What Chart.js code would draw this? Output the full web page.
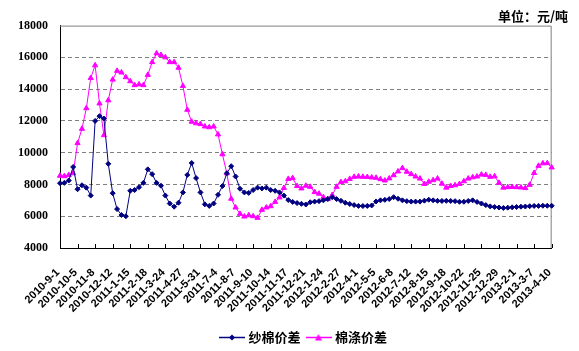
<!DOCTYPE html>
<html>
<head>
<meta charset="utf-8">
<script src="https://cdn.jsdelivr.net/npm/chart.js@4.4.1/dist/chart.umd.min.js"></script>
<style>
  html, body { margin: 0; padding: 0; background: #fff; }
</style>
</head>
<body>
<canvas id="c" width="579" height="351"></canvas>
<script>
const tickLabels = ['2010-9-1', '2010-10-5', '2010-11-8', '2010-12-12', '2011-1-15', '2011-2-18', '2011-3-24',
  '2011-4-27', '2011-5-31', '2011-7-4', '2011-8-7', '2011-9-10', '2011-10-14', '2011-11-17', '2011-12-21',
  '2012-1-24', '2012-2-27', '2012-4-1', '2012-5-5', '2012-6-8', '2012-7-12', '2012-8-15', '2012-9-18',
  '2012-10-22', '2012-11-25', '2012-12-29', '2013-2-1', '2013-3-7', '2013-4-10']

// 纱棉价差, four readings per label step
const yarnCotton = [
  8080, 8100, 8250, 9100, 7700, 7950, 7800, 7300, 12000, 12300, 12150, 9300, 7450,
  6450, 6080, 6000, 7600, 7650, 7830, 8100, 8950, 8650, 8100, 7920, 7300, 6800,
  6600, 6850, 7500, 8600, 9350, 8400, 7500, 6750, 6650, 6800, 7350, 7900, 8700,
  9150, 8500, 7730, 7500, 7470, 7650, 7800, 7750, 7800, 7650, 7600, 7500, 7300,
  7020, 6900, 6830, 6780, 6740, 6880, 6920, 6950, 7000, 7080, 7200, 7080, 6970,
  6850, 6770, 6700, 6650, 6640, 6650, 6680, 6930, 7000, 7030, 7080, 7200, 7100,
  7000, 6950, 6920, 6920, 6920, 6980, 7040, 7000, 6970, 6960, 6970, 6960, 6950,
  6910, 6910, 6960, 7000, 6900, 6800, 6700, 6620, 6580, 6550, 6520, 6540, 6560,
  6580, 6600, 6610, 6630, 6650, 6650, 6660, 6660, 6660]

// 棉涤价差
const cottonPoly = [
  8550, 8520, 8600, 8700, 10600, 11500, 12800, 14700, 15500, 13100, 11100, 13300, 14600,
  15150, 15050, 14750, 14500, 14250, 14300, 14250, 14900, 15700, 16250, 16150, 16000, 15700,
  15700, 15350, 14200, 12700, 11950, 11850, 11800, 11650, 11600, 11650, 11150, 9900, 8700,
  7100, 6550, 6150, 5980, 6060, 6000, 5900, 6400, 6550, 6630, 6900, 7180, 7780,
  8350, 8400, 7900, 7750, 7920, 7850, 7520, 7420, 7200, 7080, 7330, 7850, 8150,
  8200, 8350, 8480, 8500, 8480, 8470, 8440, 8420, 8330, 8250, 8380, 8580, 8820,
  9030, 8800, 8650, 8500, 8370, 8030, 8170, 8270, 8370, 8050, 7800, 7900, 7950,
  8030, 8200, 8370, 8450, 8500, 8620, 8600, 8480, 8510, 8100, 7800, 7830, 7840,
  7830, 7810, 7770, 7980, 8720, 9170, 9330, 9340, 9070]

const seriesNames = ['纱棉价差', '棉涤价差']
const unitText = '单位：元/吨'

const categories = []
tickLabels.forEach((d, i) => {
  categories.push(d)
  if (i < tickLabels.length - 1) categories.push('', '', '')
})

// line + marker sample for the legend
function legendMark(color, shape) {
  const c = document.createElement('canvas')
  c.width = 26
  c.height = 9
  const g = c.getContext('2d')
  g.strokeStyle = color
  g.lineWidth = 1.5
  g.beginPath(); g.moveTo(0, 4.5); g.lineTo(26, 4.5); g.stroke()
  g.fillStyle = color
  g.beginPath()
  if (shape === 'diamond') {
    g.moveTo(13, 1.5); g.lineTo(16, 4.5); g.lineTo(13, 7.5); g.lineTo(10, 4.5)
  } else {
    g.moveTo(13, 1); g.lineTo(16.5, 7.5); g.lineTo(9.5, 7.5)
  }
  g.closePath(); g.fill()
  return c
}
const marks = [legendMark('#000080', 'diamond'), legendMark('#FF00FF', 'triangle')]

// gray top/right frame and small inward ticks on the x axis
const frame = {
  id: 'frame',
  afterLayout(chart) {
    // legend sits a bit right of centre and lower, unit text a bit in from the edge
    chart.legend.left += 18
    chart.legend.right += 18
    chart.legend.top += 4
    chart.legend.bottom += 4
    chart.titleBlock.left -= 5
    chart.titleBlock.right -= 5
  },
  beforeDatasetsDraw(chart) {
    const { ctx, chartArea: a, scales: { x } } = chart
    ctx.save()
    ctx.strokeStyle = '#808080'
    ctx.lineWidth = 1
    ctx.beginPath()
    ctx.moveTo(a.left, a.top + 0.5)
    ctx.lineTo(a.right - 0.5, a.top + 0.5)
    ctx.lineTo(a.right - 0.5, a.bottom)
    ctx.stroke()
    ctx.strokeStyle = '#000'
    ctx.beginPath()
    x.ticks.forEach((t, i) => {
      if (!categories[i]) return
      const px = Math.round(x.getPixelForTick(i)) + 0.5
      ctx.moveTo(px, a.bottom)
      ctx.lineTo(px, a.bottom - 4)
    })
    ctx.stroke()
    ctx.restore()
  }
}

const cjk = 'Noto Sans CJK SC'

new Chart(document.getElementById('c').getContext('2d'), {
  type: 'line',
  data: {
    labels: categories,
    datasets: [
      {
        label: seriesNames[0],
        data: yarnCotton,
        borderColor: '#000080',
        backgroundColor: '#000080',
        borderWidth: 1,
        pointStyle: 'rectRot',
        pointRadius: 2.5,
        pointBorderWidth: 1,
        tension: 0
      },
      {
        label: seriesNames[1],
        data: cottonPoly,
        borderColor: '#FF00FF',
        backgroundColor: '#FF00FF',
        borderWidth: 1,
        pointStyle: 'triangle',
        pointRadius: 3,
        pointBorderWidth: 1,
        tension: 0
      }
    ]
  },
  options: {
    responsive: false,
    devicePixelRatio: 1,
    animation: false,
    layout: { padding: { left: 0, right: 6, top: 0, bottom: 1 } },
    scales: {
      x: {
        type: 'category',
        offset: false,
        ticks: {
          autoSkip: false,
          maxRotation: 45,
          minRotation: 45,
          padding: 18,
          labelOffset: -2,
          color: '#000',
          font: { family: 'Liberation Sans', size: 11, weight: 'bold' },
          callback: (v, i) => categories[i]
        },
        grid: { display: true, drawOnChartArea: false, drawTicks: false },
        border: { color: '#000', width: 1 },
        afterFit: s => { s.height = 71 }
      },
      y: {
        min: 4000,
        max: 18000,
        ticks: {
          stepSize: 2000,
          padding: 12,
          color: '#000',
          font: { family: 'Liberation Serif', size: 12, weight: 'bold' },
          callback: v => String(v)
        },
        grid: {
          color: c => (c.tick.value === 4000 || c.tick.value === 18000) ? 'rgba(0,0,0,0)' : '#808080',
          drawTicks: false
        },
        border: { color: '#000', width: 1, dash: [4, 3] },
        afterFit: s => { s.width = 60 }
      }
    },
    plugins: {
      tooltip: { enabled: false },
      title: {
        display: true,
        text: unitText,
        align: 'end',
        color: '#000',
        font: { family: cjk, size: 13, weight: 'bold' },
        padding: { top: 8, bottom: 2 }
      },
      legend: {
        position: 'bottom',
        labels: {
          usePointStyle: true,
          pointStyleWidth: 20,
          padding: 8,
          color: '#000',
          font: { family: cjk, size: 13, weight: 'bold' },
          generateLabels: chart => Chart.defaults.plugins.legend.labels.generateLabels(chart)
            .map((l, i) => Object.assign(l, { pointStyle: marks[i] }))
        }
      }
    }
  },
  plugins: [frame]
})
</script>
</body>
</html>
